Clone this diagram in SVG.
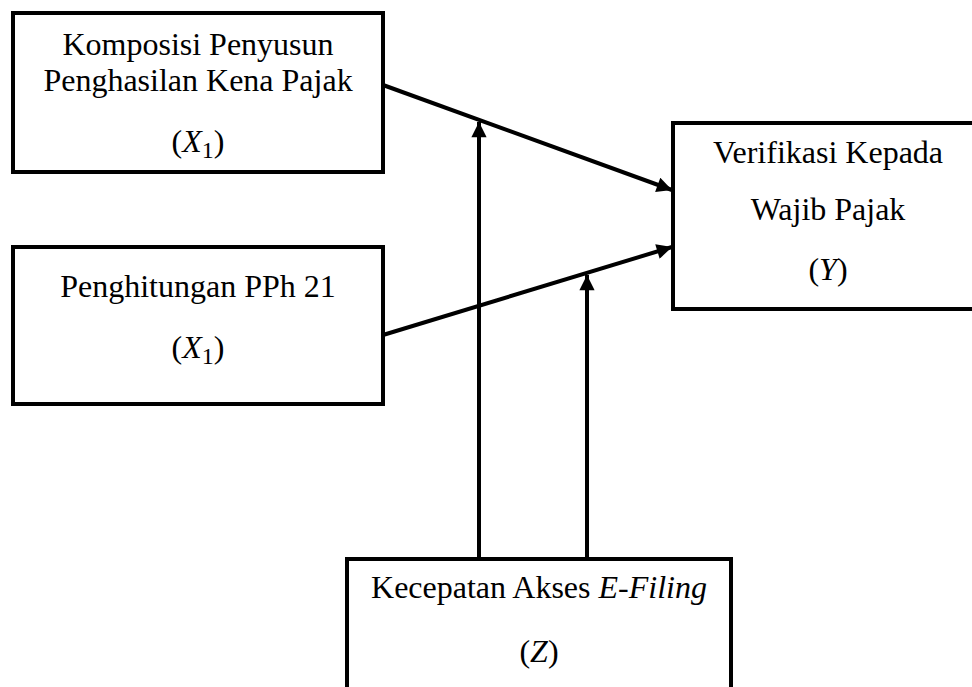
<svg xmlns="http://www.w3.org/2000/svg" width="972" height="687" viewBox="0 0 972 687">
<style>
.box{fill:#fff;stroke:#000;stroke-width:4}
.t{font-family:"Liberation Serif","Times New Roman",serif;font-size:32px;fill:#000;text-anchor:middle}
.i{font-style:italic}
.sub{font-size:24px}
.c{stroke:#000;stroke-width:4;fill:none}
</style>
<defs>
<marker id="ah" viewBox="0 0 10 10" refX="10" refY="5" markerWidth="4.5" markerHeight="3.8" orient="auto" markerUnits="strokeWidth">
<path d="M0,0 L10,5 L0,10 z" fill="#000"/>
</marker>
</defs>
<rect width="972" height="687" fill="#fff"/>
<g id="connectors">
<line class="c" x1="383" y1="85" x2="672" y2="190" marker-end="url(#ah)"/>
<line class="c" x1="383" y1="335" x2="672" y2="247" marker-end="url(#ah)"/>
<line class="c" x1="479" y1="559" x2="479" y2="122" marker-end="url(#ah)"/>
<line class="c" x1="587" y1="559" x2="587" y2="275" marker-end="url(#ah)"/>
</g>
<g id="x1a">
<rect class="box" x="13" y="13" width="370" height="159"/>
<text class="t" x="198" y="55">Komposisi Penyusun</text>
<text class="t" x="198" y="91">Penghasilan Kena Pajak</text>
<text class="t" x="198" y="152">(<tspan class="i">X</tspan><tspan class="sub" dy="6">1</tspan><tspan dy="-6">)</tspan></text>
</g>
<g id="x1b">
<rect class="box" x="13" y="247" width="370" height="157"/>
<text class="t" x="198" y="297">Penghitungan PPh 21</text>
<text class="t" x="198" y="358">(<tspan class="i">X</tspan><tspan class="sub" dy="6">1</tspan><tspan dy="-6">)</tspan></text>
</g>
<g id="y">
<rect class="box" x="673" y="123" width="320" height="186"/>
<text class="t" x="828" y="163">Verifikasi Kepada</text>
<text class="t" x="828" y="220">Wajib Pajak</text>
<text class="t" x="828" y="280">(<tspan class="i">Y</tspan>)</text>
</g>
<g id="z">
<rect class="box" x="347" y="559" width="384" height="150"/>
<text class="t" x="539" y="598">Kecepatan Akses <tspan class="i">E-Filing</tspan></text>
<text class="t" x="539" y="662">(<tspan class="i">Z</tspan>)</text>
</g>
</svg>
